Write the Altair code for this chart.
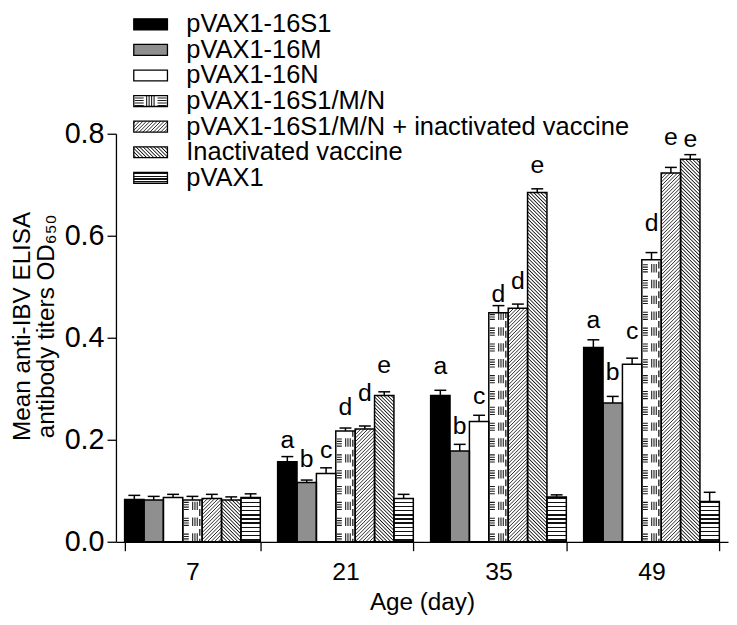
import altair as alt
import pandas as pd

# ---------------- data ----------------
ages = ["7", "21", "35", "49"]
series = ["pVAX1-16S1", "pVAX1-16M", "pVAX1-16N", "pVAX1-16S1/M/N",
          "pVAX1-16S1/M/N + inactivated vaccine", "Inactivated vaccine", "pVAX1"]

s1_mean = [0.083, 0.157, 0.287, 0.381]
m_mean = [0.082, 0.116, 0.178, 0.272]
n_mean = [0.087, 0.134, 0.236, 0.348]
smn_mean = [0.082, 0.217, 0.449, 0.553]
smni_mean = [0.085, 0.221, 0.458, 0.723]
inact_mean = [0.082, 0.287, 0.685, 0.750]
pvax_mean = [0.087, 0.085, 0.088, 0.079]

s1_err = [0.008, 0.010, 0.010, 0.015]
m_err = [0.007, 0.005, 0.013, 0.013]
n_err = [0.006, 0.011, 0.012, 0.012]
smn_err = [0.007, 0.006, 0.014, 0.014]
smni_err = [0.008, 0.006, 0.008, 0.011]
inact_err = [0.006, 0.007, 0.007, 0.009]
pvax_err = [0.007, 0.008, 0.004, 0.018]

letter_ages = ["21"] * 6 + ["35"] * 6 + ["49"] * 6
letter_series = series[:6] * 3
letters = ["a", "b", "c", "d", "d", "e",
           "a", "b", "c", "d", "d", "e",
           "a", "b", "c", "d", "e", "e"]
letter_y = [0.1835, 0.146, 0.164, 0.249, 0.276, 0.331,
            0.329, 0.212, 0.271, 0.470, 0.496, 0.723,
            0.419, 0.318, 0.397, 0.609, 0.778, 0.774]

means = [s1_mean, m_mean, n_mean, smn_mean, smni_mean, inact_mean, pvax_mean]
errs = [s1_err, m_err, n_err, smn_err, smni_err, inact_err, pvax_err]

rows = []
for si, s in enumerate(series):
    for ai, a in enumerate(ages):
        rows.append({"series": s, "age": a, "mean": means[si][ai],
                     "hi": means[si][ai] + errs[si][ai]})
df = pd.DataFrame(rows)
ldf = pd.DataFrame({"series": letter_series, "age": letter_ages,
                    "letter": letters, "ly": letter_y})
legdf = pd.DataFrame({"series": series, "idx": list(range(len(series)))})

# ---------------- layout / style ----------------
FONT = "Liberation Sans"
W, H, YMAX = 618, 412, 0.8
STEP = W / len(ages)
PI = 17.5 / STEP
BAND = STEP * (1 - PI)
BW = BAND / len(series)
INK = "#1a1a1a"
solid_colors = ["#000000", "#8f8f8f", "#ffffff", "#ffffff", "#ffffff", "#ffffff", "#ffffff"]


def gradient(kind, w, h, spacing, thick, ink, soft=True, paper="#ffffff"):
    if kind == "horiz":
        L = h
        coords = dict(x1=0, y1=1, x2=0, y2=0)
    else:
        L = w + h
        s = L / (w * w + h * h)
        if kind == "fwd":
            coords = dict(x1=0, y1=0, x2=round(s * w, 6), y2=round(s * h, 6))
        else:
            coords = dict(x1=0, y1=1, x2=round(s * w, 6), y2=round(1 - s * h, 6))
    stops = [{"offset": 0, "color": paper}]
    pos = spacing * 0.3
    while pos + thick <= L:
        a, m, b = pos / L, (pos + thick / 2) / L, (pos + thick) / L
        if soft:
            stops += [{"offset": round(a, 5), "color": paper},
                      {"offset": round(m, 5), "color": ink},
                      {"offset": round(b, 5), "color": paper}]
        else:
            stops += [{"offset": round(a, 5), "color": paper},
                      {"offset": round(a, 5), "color": ink},
                      {"offset": round(b, 5), "color": ink},
                      {"offset": round(b, 5), "color": paper}]
        pos += spacing
    stops.append({"offset": 1, "color": paper})
    return {"gradient": "linear", "stops": stops, **coords}


pattern_style = {
    4: dict(kind="fwd", spacing=3.6, thick=2.0, ink="#2a2a2a", soft=True),
    5: dict(kind="back", spacing=3.6, thick=2.4, ink="#111111", soft=True),
    6: dict(kind="horiz", spacing=4.2, thick=1.5, ink="#111111", soft=False),
}

xscale = alt.Scale(domain=ages, paddingInner=PI, paddingOuter=PI / 2)
yscale = alt.Scale(domain=[0, YMAX], nice=False, zero=True)
xoscale = alt.Scale(domain=series, paddingInner=0, paddingOuter=0)

xaxis = alt.Axis(title="Age (day)", labelAngle=0, tickBand="extent", tickSize=9,
                 labelPadding=9, titleY=68, titleBaseline="alphabetic")
yaxis = alt.Axis(title=["Mean anti-IBV ELISA", "antibody titers OD\u2086\u2085\u2080"],
                 values=[0, 0.2, 0.4, 0.6, 0.8], format=".1f", tickSize=9,
                 labelPadding=3, labelFontSize=29, titleX=-87, titleY=194,
                 titleBaseline="alphabetic", titleLineHeight=23.5, grid=False)


def X(**kw):
    return alt.X("age:N", scale=xscale, axis=xaxis, **kw)


def XO():
    return alt.XOffset("series:N", scale=xoscale)


def Y(f):
    return alt.Y(f, scale=yscale, axis=yaxis)


fill_enc = alt.Fill("series:N", scale=alt.Scale(domain=series, range=solid_colors), legend=None)

base = alt.Chart(df)
main_layers = [base.mark_bar(strokeWidth=0).encode(x=X(), xOffset=XO(), y=Y("mean:Q"), fill=fill_enc)]

# patterned bars (hatching drawn as gradient fills sized per bar)
for si, st in pattern_style.items():
    for ai, a in enumerate(ages):
        h = means[si][ai] / YMAX * H
        g = gradient(st["kind"], BW, h, st["spacing"], st["thick"], st["ink"], st["soft"])
        main_layers.append(
            base.transform_filter(f"datum.series === '{series[si]}' && datum.age === '{a}'")
            .mark_bar(fill=g, strokeWidth=0)
            .encode(x=X(), xOffset=XO(), y=Y("mean:Q"))
        )

# pVAX1-16S1/M/N pattern: dashes and line groups
smn_rules = [
    (3.6, 5.0, [1.1, 1.3, 1.1, 1.3, 1.1, 1.3, 1.1, 7.7], 0),
    (10.0, 1.1, [8.5, 7.5], 0),
    (12.3, 1.1, [8.5, 7.5], 0),
    (14.6, 1.1, [8.5, 7.5], 0),
    (17.2, 1.3, [7, 3], 4),
]
for off, sw, dash, doff in smn_rules:
    main_layers.append(
        base.transform_filter(f"datum.series === '{series[3]}'")
        .transform_calculate(zero="0")
        .mark_rule(stroke=INK, strokeWidth=sw, strokeDash=dash, strokeDashOffset=doff)
        .encode(x=X(bandPosition=(3 * BW + off) / BAND), y=Y("zero:Q"), y2="mean:Q")
    )

main_layers += [
    base.mark_bar(fillOpacity=0, stroke="black", strokeWidth=1.5)
    .encode(x=X(), xOffset=XO(), y=Y("mean:Q")),
    base.mark_rule(stroke="black", strokeWidth=1.5)
    .encode(x=X(), xOffset=XO(), y=Y("mean:Q"), y2="hi:Q"),
    base.mark_tick(color="black", size=12, thickness=1.5, orient="horizontal", opacity=1)
    .encode(x=X(), xOffset=XO(), y=Y("hi:Q")),
    alt.Chart(ldf).mark_text(fontSize=25, baseline="alphabetic", color="black")
    .encode(x=X(), xOffset=XO(), y=Y("ly:Q"), text="letter:N"),
]

# ---------------- legend (own vertical scale) ----------------
lscale = alt.Scale(domain=[0, 6], range=[-110.5, 44.5], nice=False, zero=False)


def LY():
    return alt.Y("idx:Q", scale=lscale, axis=None)


lbase = alt.Chart(legdf)
SW_X0, SW_X1 = 18, 52
leg_layers = [
    lbase.mark_rect(yOffset=-5.5, y2Offset=5.5, strokeWidth=0)
    .encode(x=alt.value(SW_X0), x2=alt.value(SW_X1), y=LY(), y2="idx:Q", fill=fill_enc)
]
leg_pattern = {
    4: dict(kind="fwd", spacing=3.6, thick=2.0, ink="#2a2a2a", soft=True),
    5: dict(kind="back", spacing=3.6, thick=2.4, ink="#111111", soft=True),
    6: dict(kind="horiz", spacing=2.8, thick=1.2, ink="#111111", soft=False),
}
for si, st in leg_pattern.items():
    g = gradient(st["kind"], SW_X1 - SW_X0, 11, st["spacing"], st["thick"], st["ink"], st["soft"])
    leg_layers.append(
        lbase.transform_filter(f"datum.series === '{series[si]}'")
        .mark_rect(yOffset=-5.5, y2Offset=5.5, fill=g, strokeWidth=0)
        .encode(x=alt.value(SW_X0), x2=alt.value(SW_X1), y=LY(), y2="idx:Q")
    )
leg_smn = [
    (23.5, 9.0, [1.1, 1.4]),
    (31.0, 1.1, [20, 0.1]),
    (33.5, 1.1, [20, 0.1]),
    (36.0, 1.1, [20, 0.1]),
    (38.5, 1.1, [20, 0.1]),
    (46.5, 9.0, [1.1, 1.4]),
]
for xc, sw, dash in leg_smn:
    leg_layers.append(
        lbase.transform_filter(f"datum.series === '{series[3]}'")
        .mark_rule(yOffset=5, y2Offset=-5, stroke=INK, strokeWidth=sw, strokeDash=dash)
        .encode(x=alt.value(xc), y=LY(), y2="idx:Q")
    )
leg_layers += [
    lbase.mark_rect(yOffset=-5.5, y2Offset=5.5, fillOpacity=0, stroke="black", strokeWidth=1.3)
    .encode(x=alt.value(SW_X0), x2=alt.value(SW_X1), y=LY(), y2="idx:Q"),
    lbase.mark_text(align="left", baseline="middle", fontSize=25.7, color="black")
    .encode(x=alt.value(71), y=LY(), text="series:N"),
]

chart = (
    alt.layer(alt.layer(*main_layers), alt.layer(*leg_layers))
    .resolve_scale(y="independent")
    .properties(width=W, height=H,
                padding={"left": 109, "top": 124, "right": 1, "bottom": 73},
                autosize="none")
    .configure(font=FONT)
    .configure_view(stroke=None)
    .configure_axis(domainColor="black", tickColor="black", domainWidth=1.3, tickWidth=1.3,
                    labelColor="black", titleColor="black", labelFontSize=25,
                    titleFontSize=24.5, titleFontWeight="normal", labelFont=FONT,
                    titleFont=FONT, grid=False)
    .configure_text(font=FONT)
)

chart.save("out.html", embed_options={"renderer": "svg", "actions": False})
